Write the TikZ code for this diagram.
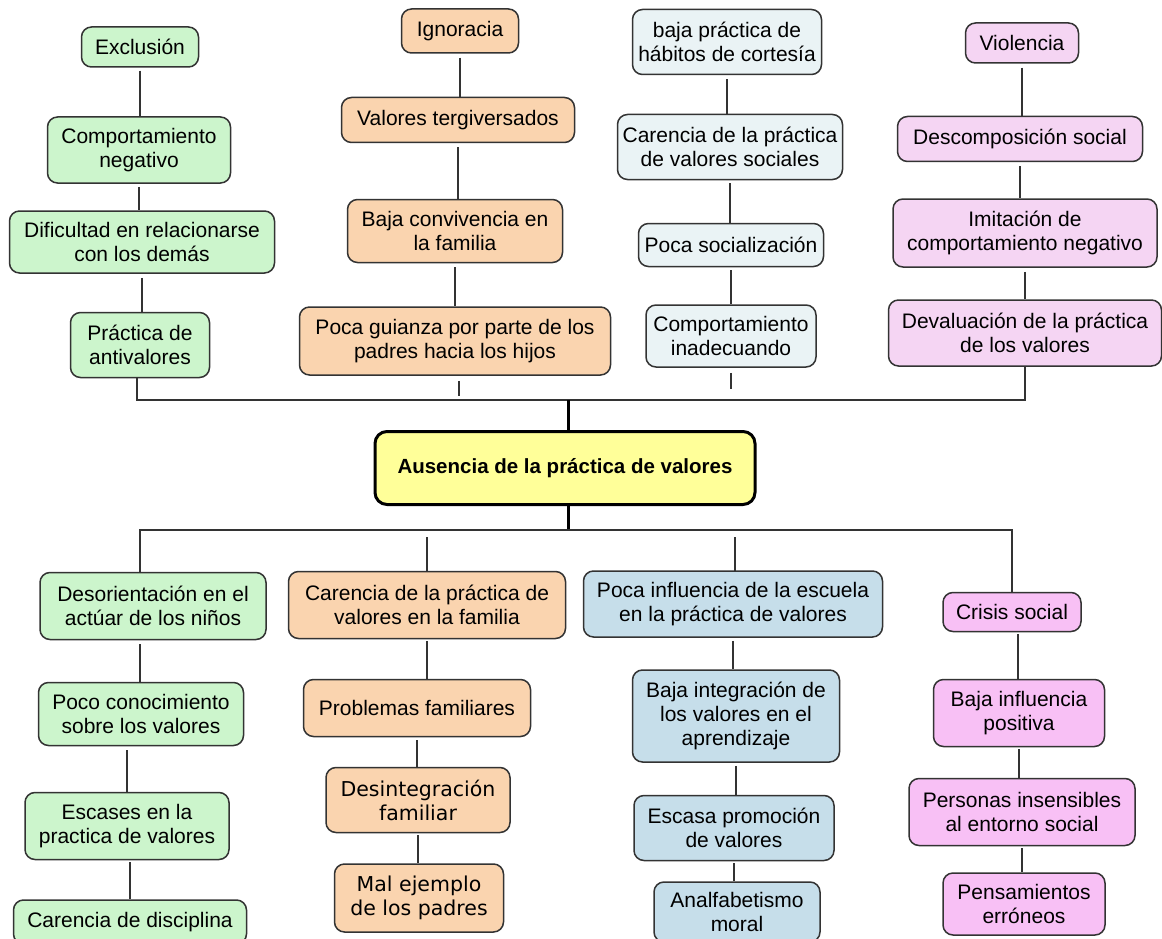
\documentclass[tikz,border=0pt]{standalone}
\usepackage{fontspec}
\setmainfont{Liberation Sans}
\newfontfamily\verd{DejaVu Sans}
\definecolor{cgreen}{HTML}{CCF5CC}
\definecolor{corange}{HTML}{FAD4AF}
\definecolor{cgray}{HTML}{EAF3F5}
\definecolor{cpinkA}{HTML}{F5D5F3}
\definecolor{cblue}{HTML}{C6DEEA}
\definecolor{cpinkB}{HTML}{F8C0F5}
\definecolor{cyel}{HTML}{FFFF99}
\definecolor{cborder}{HTML}{333333}
\tikzset{
  box/.style={draw=cborder, line width=1.5pt, rounded corners=10pt, align=center,
    inner sep=1pt, font=\fontsize{21}{24}\selectfont},
  conn/.style={draw=cborder, line width=1.5pt},
  heavy/.style={draw=black, line width=3pt},
  cgr/.style={box, fill=cgreen},
  cor/.style={box, fill=corange},
  cgy/.style={box, fill=cgray},
  cpa/.style={box, fill=cpinkA},
  cbl/.style={box, fill=cblue},
  cpb/.style={box, fill=cpinkB},
}
\newcommand{\bx}[6]{\node[#1, minimum width=#4pt, minimum height=#5pt] (#2) at (#3) {#6};}
\begin{document}
\begin{tikzpicture}[x=1pt,y=-1pt]
\useasboundingbox (0,0) rectangle (1162,939);
\fill[white] (0,0) rectangle (1162,939);
% top column 1
\bx{cgr}{ex}{140,47}{117}{40}{Exclusión}
\bx{cgr}{cn}{139,150}{183}{66}{Comportamiento\\negativo}
\bx{cgr}{dr}{142,242}{265}{62}{Dificultad en relacionarse\\con los demás}
\bx{cgr}{pa}{140,345}{139}{65}{Práctica de\\antivalores}
% top column 2
\bx{cor}{ig}{460,31}{117}{44}{Ignoracia}
\bx{cor}{vt}{458,120}{233}{45}{Valores tergiversados}
\bx{cor}{bc}{455,231}{215}{63}{Baja convivencia en\\la familia}
\bx{cor}{pg}{455,341}{311}{68}{Poca guianza por parte de los\\padres hacia los hijos}
% top column 3
\bx{cgy}{bp}{727,42}{189}{65}{baja práctica de\\hábitos de cortesía}
\bx{cgy}{cv}{730,147}{225}{65}{Carencia de la práctica\\de valores sociales}
\bx{cgy}{ps}{731,245}{185}{43}{Poca socialización}
\bx{cgy}{ci}{731,336}{170}{62}{Comportamiento\\inadecuando}
% top column 4
\bx{cpa}{vi}{1022,43}{113}{40}{Violencia}
\bx{cpa}{ds}{1020,139}{245}{45}{Descomposición social}
\bx{cpa}{im}{1025,233}{264}{68}{Imitación de\\comportamiento negativo}
\bx{cpa}{dv}{1025,333}{273}{66}{Devaluación de la práctica\\de los valores}
% center
\node[draw=black, line width=3pt, rounded corners=12pt, fill=cyel, minimum width=380pt,
  minimum height=73pt, font=\fontsize{20.5}{24}\selectfont\bfseries] (aus) at (565,468)
  {Ausencia de la práctica de valores};
% bottom column 1
\bx{cgr}{de}{153,606}{226}{67}{Desorientación en el\\actúar de los niños}
\bx{cgr}{pc}{141,714}{205}{63}{Poco conocimiento\\sobre los valores}
\bx{cgr}{es}{127,826}{204}{67}{Escases en la\\practica de valores}
\bx{cgr}{cd}{130,922}{233}{44}{Carencia de disciplina}
% bottom column 2
\bx{cor}{cf}{427,605}{277}{67}{Carencia de la práctica de\\valores en la familia}
\bx{cor}{pf}{417,708}{227}{57}{Problemas familiares}
\bx{cor,font=\verd\fontsize{20.5}{24}\selectfont}{di}{418,800}{184}{65}{Desintegración\\familiar}
\bx{cor,font=\verd\fontsize{20.5}{24}\selectfont}{me}{419,898}{169}{68}{Mal ejemplo\\de los padres}
% bottom column 3
\bx{cbl}{pe}{733,604}{299}{66}{Poca influencia de la escuela\\en la práctica de valores}
\bx{cbl}{bi}{736,716}{207}{92}{Baja integración de\\los valores en el\\aprendizaje}
\bx{cbl}{ep}{734,828}{200}{65}{Escasa promoción\\de valores}
\bx{cbl}{am}{737,912}{166}{60}{Analfabetismo\\moral}
% bottom column 4
\bx{cpb}{cs}{1012,612}{138}{39}{Crisis social}
\bx{cpb}{bf}{1019,713}{171}{67}{Baja influencia\\positiva}
\bx{cpb}{pn}{1022,812}{226}{67}{Personas insensibles\\al entorno social}
\bx{cpb}{pt}{1024,904}{162}{62}{Pensamientos\\erróneos}
% connector helper coordinates
\coordinate (tm) at (568,400);
\coordinate (tr) at (1025,400);
\coordinate (bm) at (568,530);
\coordinate (bl) at (140,530);
\coordinate (br) at (1012,530);
% top chains
\draw[conn] ([yshift=-3pt]ex.south) -- (ex.south |- cn.north);
\draw[conn] ([yshift=-3pt]cn.south) -- (cn.south |- dr.north);
\draw[conn] ([yshift=-4pt]dr.south) -- (dr.south |- pa.north);
\draw[conn] ([yshift=-4pt]ig.south) -- (ig.south |- vt.north);
\draw[conn] ([yshift=-4pt]vt.south) -- (vt.south |- bc.north);
\draw[conn] ([yshift=-4pt]bc.south) -- (bc.south |- pg.north);
\draw[conn] ([yshift=-4pt]bp.south) -- (bp.south |- cv.north);
\draw[conn] ([yshift=-3pt]cv.south) -- (cv.south |- ps.north);
\draw[conn] ([yshift=-3pt]ps.south) -- (ps.south |- ci.north);
\draw[conn] ([yshift=-4pt]vi.south) -- (vi.south |- ds.north);
\draw[conn] ([yshift=-4pt]ds.south) -- (ds.south |- im.north);
\draw[conn] ([yshift=-4pt]im.south) -- (im.south |- dv.north);
% stubs
\draw[conn] ([xshift=4pt,yshift=-5pt]pg.south) -- ([xshift=4pt,yshift=-20pt]pg.south);
\draw[conn] ([yshift=-5pt]ci.south) -- ([yshift=-21pt]ci.south);
% top trunk
\draw[conn] ([xshift=-3pt]pa.south) |- (tr) -- (dv.south);
\draw[heavy] (tm) -- (tm |- aus.north);
% bottom trunk
\draw[heavy] (aus.south -| bm) -- (bm);
\draw[conn] (bl |- de.north) -- (bl) -- (br) -- (br |- cs.north);
\draw[conn] (427,537) -- (cf.north);
\draw[conn] (735,537) -- (735,571);
% bottom chains
\draw[conn] ([xshift=-13pt,yshift=-4pt]de.south) -- ([xshift=-13pt]de.south |- pc.north);
\draw[conn] ([xshift=-14pt,yshift=-4pt]pc.south) -- ([xshift=-14pt]pc.south |- es.north);
\draw[conn] ([xshift=3pt,yshift=-2pt]es.south) -- ([xshift=3pt]es.south |- cd.north);
\draw[conn] ([yshift=-2pt]cf.south) -- (cf.south |- pf.north);
\draw[conn] ([yshift=-3pt]pf.south) -- (pf.south |- di.north);
\draw[conn] ([yshift=-2pt]di.south) -- (di.south |- me.north);
\draw[conn] ([yshift=-3pt]pe.south) -- (pe.south |- bi.north);
\draw[conn] ([yshift=-3pt]bi.south) -- (bi.south |- ep.north);
\draw[conn] ([yshift=-2pt]ep.south) -- (ep.south |- am.north);
\draw[conn] ([xshift=6pt,yshift=-2pt]cs.south) -- ([xshift=6pt]cs.south |- bf.north);
\draw[conn] ([yshift=-2pt]bf.south) -- (bf.south |- pn.north);
\draw[conn] ([yshift=-2pt]pn.south) -- (pn.south |- pt.north);
\end{tikzpicture}
\end{document}
